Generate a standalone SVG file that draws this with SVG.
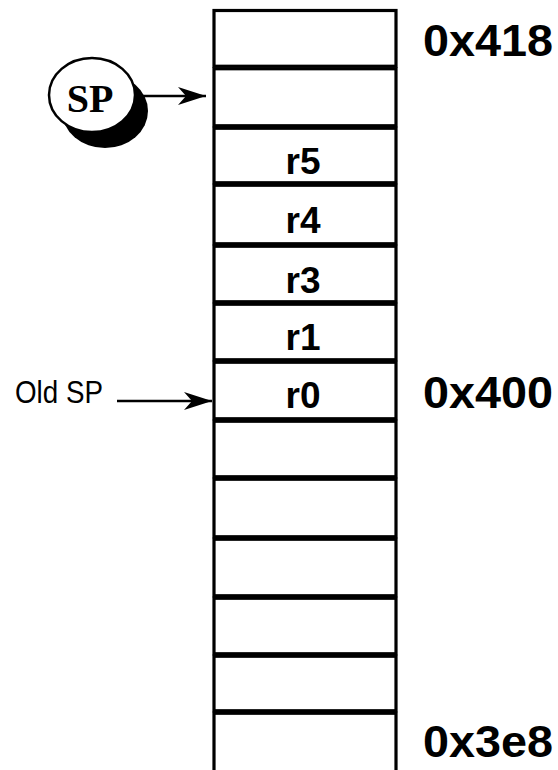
<svg xmlns="http://www.w3.org/2000/svg" width="558" height="770" viewBox="0 0 558 770">
  <style>
    .cell { fill: #ffffff; stroke: #000000; stroke-width: 3.2; }
    .reg { font-family: "Liberation Sans", Arial, sans-serif; font-weight: bold; font-size: 37px; text-anchor: middle; fill: #000; }
    .addr { font-family: "Liberation Sans", Arial, sans-serif; font-weight: bold; font-size: 44px; fill: #000; }
    .lbl { font-family: "Liberation Sans", Arial, sans-serif; font-size: 31px; fill: #000; }
    .sp { font-family: "Liberation Serif", "Times New Roman", serif; font-weight: bold; font-size: 40px; text-anchor: middle; fill: #000; }
    .conn { stroke: #000; stroke-width: 2.5; fill: none; }
  </style>
  <defs>
    <marker id="arrow" markerUnits="userSpaceOnUse" markerWidth="32" markerHeight="20" refX="28" refY="9" orient="auto">
      <path d="M28,9 L0,0 L8,9 L0,18 Z" fill="#000"/>
    </marker>
  </defs>
  <rect width="558" height="770" fill="#ffffff"/>

  <!-- stack cells, top (0x418) to bottom (0x3e8) -->
  <g id="cell-0"><rect class="cell" x="214" y="10.5" width="182" height="55.75"/></g>
  <g id="cell-1"><rect class="cell" x="214" y="68.75" width="182" height="57"/></g>
  <g id="cell-2"><rect class="cell" x="214" y="128.25" width="182" height="54.5"/>
    <text class="reg" x="303" y="174">r5</text></g>
  <g id="cell-3"><rect class="cell" x="214" y="185.25" width="182" height="58.5"/>
    <text class="reg" x="303" y="233">r4</text></g>
  <g id="cell-4"><rect class="cell" x="214" y="246.25" width="182" height="55.5"/>
    <text class="reg" x="303" y="293">r3</text></g>
  <g id="cell-5"><rect class="cell" x="214" y="304.25" width="182" height="55.5"/>
    <text class="reg" x="303" y="350">r1</text></g>
  <g id="cell-6"><rect class="cell" x="214" y="362.25" width="182" height="56.5"/>
    <text class="reg" x="303" y="408">r0</text></g>
  <g id="cell-7"><rect class="cell" x="214" y="421.25" width="182" height="55.5"/></g>
  <g id="cell-8"><rect class="cell" x="214" y="479.25" width="182" height="57.5"/></g>
  <g id="cell-9"><rect class="cell" x="214" y="539.25" width="182" height="56.5"/></g>
  <g id="cell-10"><rect class="cell" x="214" y="598.25" width="182" height="55.5"/></g>
  <g id="cell-11"><rect class="cell" x="214" y="656.25" width="182" height="54.5"/></g>
  <g id="cell-12"><rect class="cell" x="214" y="713.25" width="182" height="70"/></g>

  <!-- address labels -->
  <g id="addr-418"><text class="addr" x="423" y="56" textLength="130" lengthAdjust="spacingAndGlyphs">0x418</text></g>
  <g id="addr-400"><text class="addr" x="423" y="408" textLength="130" lengthAdjust="spacingAndGlyphs">0x400</text></g>
  <g id="addr-3e8"><text class="addr" x="423" y="757" textLength="130" lengthAdjust="spacingAndGlyphs">0x3e8</text></g>

  <!-- stack pointer badge -->
  <g id="sp">
    <ellipse cx="105" cy="111" rx="43" ry="37" fill="#000"/>
    <ellipse cx="92" cy="95" rx="43" ry="37" fill="#fff" stroke="#000" stroke-width="2.5"/>
    <text class="sp" x="90" y="112">SP</text>
  </g>

  <!-- old stack pointer label -->
  <g id="old-sp"><text class="lbl" x="15" y="403" textLength="88" lengthAdjust="spacingAndGlyphs">Old SP</text></g>

  <!-- pointer arrows -->
  <g id="connectors">
    <path class="conn" d="M117,401 L212,401" marker-end="url(#arrow)"/>
    <path class="conn" d="M136,96 L206,96" marker-end="url(#arrow)"/>
  </g>
</svg>
